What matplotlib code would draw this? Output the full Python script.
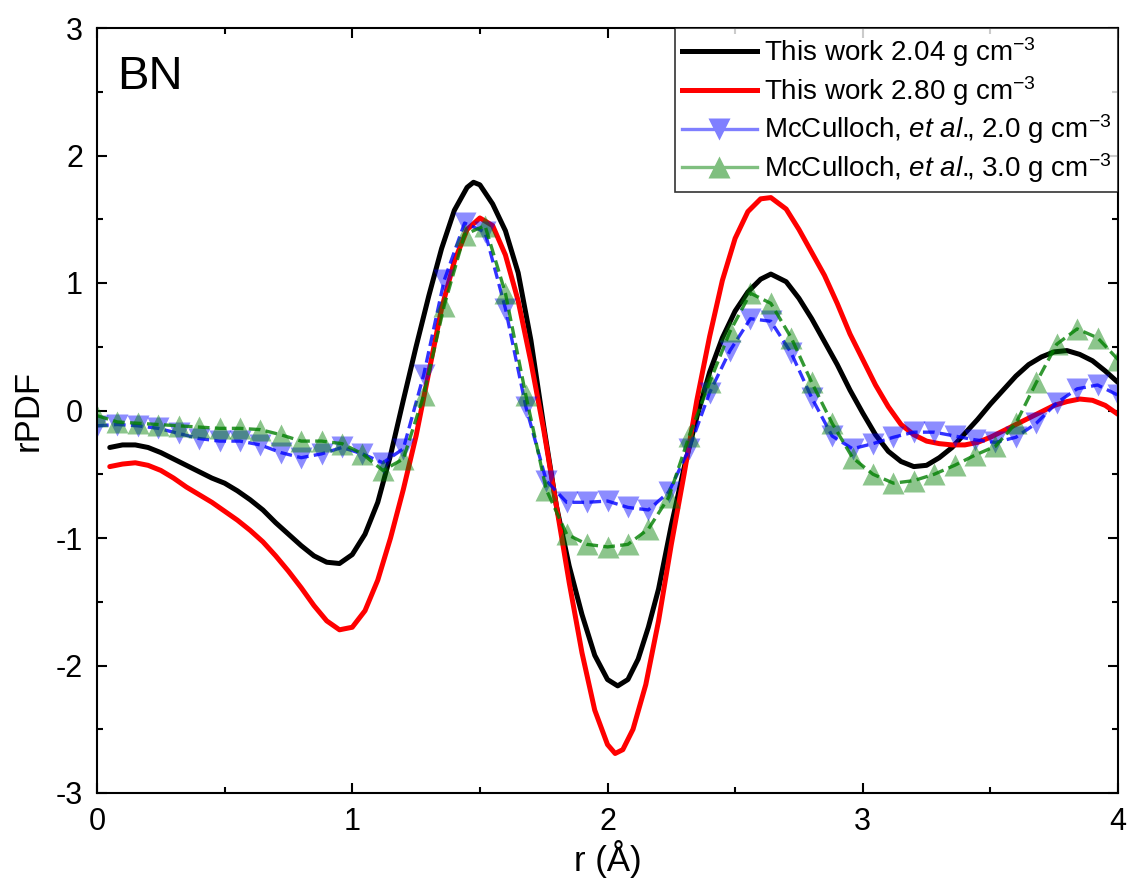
import matplotlib
matplotlib.use("Agg")
import matplotlib.pyplot as plt
from matplotlib.lines import Line2D
from matplotlib.ticker import MultipleLocator

# ── Style ──────────────────────────────────────────────────────────────────────
plt.rcParams.update({
    "font.family": ["Liberation Sans", "DejaVu Sans"],
    "mathtext.fontset": "custom",
    "mathtext.rm": "Liberation Sans",
    "mathtext.it": "Liberation Sans:italic",
    "axes.linewidth": 1.5,
    "axes.unicode_minus": False,
})

# ── Data ───────────────────────────────────────────────────────────────────────
r_black = [0.05, 0.10, 0.15, 0.20, 0.25, 0.30, 0.35, 0.40, 0.45, 0.50,
           0.55, 0.60, 0.65, 0.70, 0.75, 0.80, 0.85, 0.90, 0.95, 1.00,
           1.05, 1.10, 1.15, 1.20, 1.25, 1.30, 1.35, 1.40, 1.45, 1.475,
           1.50, 1.55, 1.60, 1.65, 1.70, 1.75, 1.80, 1.85, 1.90, 1.95,
           2.00, 2.04, 2.08, 2.12, 2.16, 2.20, 2.25, 2.30, 2.35, 2.40,
           2.45, 2.50, 2.55, 2.60, 2.64, 2.70, 2.75, 2.80, 2.85, 2.90,
           2.95, 3.00, 3.05, 3.10, 3.15, 3.20, 3.25, 3.30, 3.35, 3.40,
           3.45, 3.50, 3.55, 3.60, 3.65, 3.70, 3.75, 3.80, 3.85, 3.90,
           3.95, 4.00]
g_black = [-0.29, -0.27, -0.27, -0.29, -0.33, -0.38, -0.43, -0.48, -0.53, -0.57,
           -0.63, -0.70, -0.78, -0.88, -0.97, -1.06, -1.14, -1.19, -1.20, -1.13,
           -0.97, -0.72, -0.35, 0.08, 0.50, 0.90, 1.27, 1.57, 1.75, 1.79,
           1.77, 1.62, 1.41, 1.08, 0.55, -0.12, -0.75, -1.22, -1.60, -1.92,
           -2.11, -2.16, -2.11, -1.95, -1.70, -1.40, -0.90, -0.45, -0.05, 0.30,
           0.57, 0.78, 0.93, 1.03, 1.07, 1.01, 0.88, 0.72, 0.54, 0.36,
           0.16, -0.02, -0.19, -0.32, -0.40, -0.44, -0.43, -0.37, -0.29, -0.18,
           -0.07, 0.05, 0.16, 0.27, 0.36, 0.42, 0.46, 0.47, 0.44, 0.39,
           0.31, 0.22]

r_red = [0.05, 0.10, 0.15, 0.20, 0.25, 0.30, 0.35, 0.40, 0.45, 0.50,
         0.55, 0.60, 0.65, 0.70, 0.75, 0.80, 0.85, 0.90, 0.95, 1.00,
         1.05, 1.10, 1.15, 1.20, 1.25, 1.30, 1.35, 1.40, 1.45, 1.50,
         1.55, 1.60, 1.65, 1.70, 1.75, 1.80, 1.85, 1.90, 1.95, 2.00,
         2.03, 2.06, 2.10, 2.15, 2.20, 2.25, 2.30, 2.35, 2.40, 2.45,
         2.50, 2.55, 2.60, 2.64, 2.70, 2.75, 2.80, 2.85, 2.90, 2.95,
         3.00, 3.05, 3.10, 3.15, 3.20, 3.25, 3.30, 3.35, 3.40, 3.45,
         3.50, 3.55, 3.60, 3.65, 3.70, 3.75, 3.80, 3.85, 3.90, 3.95,
         4.00]
g_red = [-0.44, -0.42, -0.41, -0.43, -0.47, -0.53, -0.60, -0.66, -0.72, -0.79,
         -0.86, -0.94, -1.03, -1.14, -1.26, -1.39, -1.53, -1.65, -1.72, -1.70,
         -1.57, -1.33, -1.00, -0.62, -0.20, 0.30, 0.80, 1.17, 1.42, 1.51,
         1.45, 1.22, 0.86, 0.38, -0.15, -0.75, -1.35, -1.90, -2.35, -2.62,
         -2.69, -2.66, -2.50, -2.15, -1.65, -1.05, -0.50, 0.08, 0.58, 1.02,
         1.35, 1.56, 1.66, 1.67, 1.58, 1.42, 1.24, 1.06, 0.84, 0.60,
         0.40, 0.20, 0.03, -0.11, -0.19, -0.24, -0.26, -0.27, -0.27, -0.25,
         -0.21, -0.16, -0.11, -0.06, -0.01, 0.04, 0.07, 0.09, 0.08, 0.04,
         -0.03]

r_mcc = [0.00, 0.08, 0.16, 0.24, 0.32, 0.40, 0.48, 0.56, 0.64, 0.72,
         0.80, 0.88, 0.96, 1.04, 1.12, 1.20, 1.28, 1.36, 1.44, 1.52,
         1.60, 1.68, 1.76, 1.84, 1.92, 2.00, 2.08, 2.16, 2.24, 2.32,
         2.40, 2.48, 2.56, 2.64, 2.72, 2.80, 2.88, 2.96, 3.04, 3.12,
         3.20, 3.28, 3.36, 3.44, 3.52, 3.60, 3.68, 3.76, 3.84, 3.92,
         4.00]
g_mcc_20 = [-0.12, -0.11, -0.12, -0.14, -0.18, -0.22, -0.24, -0.24, -0.27, -0.33,
            -0.37, -0.34, -0.29, -0.34, -0.41, -0.30, 0.28, 1.02, 1.47, 1.40,
            0.80, 0.03, -0.55, -0.72, -0.72, -0.71, -0.76, -0.78, -0.64, -0.30,
            0.14, 0.47, 0.72, 0.70, 0.45, 0.10, -0.20, -0.30, -0.26, -0.21,
            -0.17, -0.17, -0.20, -0.23, -0.25, -0.21, -0.10, 0.06, 0.17, 0.20,
            0.12]
g_mcc_30 = [-0.04, -0.09, -0.10, -0.11, -0.12, -0.13, -0.14, -0.14, -0.15, -0.19,
            -0.24, -0.24, -0.26, -0.34, -0.47, -0.38, 0.12, 0.82, 1.38, 1.45,
            0.92, 0.12, -0.62, -0.97, -1.05, -1.07, -1.05, -0.93, -0.68, -0.20,
            0.22, 0.62, 0.92, 0.84, 0.57, 0.22, -0.10, -0.37, -0.50, -0.57,
            -0.55, -0.50, -0.43, -0.35, -0.28, -0.10, 0.22, 0.52, 0.64, 0.57,
            0.40]

labels = [
    r"This work 2.04 g cm$^{-3}$",
    r"This work 2.80 g cm$^{-3}$",
    r"McCulloch, $\mathit{et\ al.}\!\!$, 2.0 g cm$^{-3}$",
    r"McCulloch, $\mathit{et\ al.}\!\!$, 3.0 g cm$^{-3}$",
]

# ── Figure ─────────────────────────────────────────────────────────────────────
fig = plt.figure(figsize=(11.28, 8.81), dpi=100)
ax = fig.add_axes([97 / 1128, 1 - 793 / 881, (1118 - 97) / 1128, (793 - 28) / 881])

ax.plot(r_black, g_black, color="black", lw=3.6, solid_capstyle="round")
ax.plot(r_red, g_red, color="#ff0000", lw=3.6, solid_capstyle="round")

# McCulloch series: dashed line plus translucent triangles
ax.plot(r_mcc, g_mcc_20, color="#0000ff", alpha=0.8, lw=2.4, dashes=(3.5, 1.6))
ax.plot(r_mcc, g_mcc_20, ls="none", marker="v", ms=16, mfc="#0000ff",
        mec="none", alpha=0.45)
ax.plot(r_mcc, g_mcc_30, color="#007f00", alpha=0.8, lw=2.4, dashes=(3.5, 1.6))
ax.plot(r_mcc, g_mcc_30, ls="none", marker="^", ms=16, mfc="#008000",
        mec="none", alpha=0.45)

ax.set_xlim(0, 4)
ax.set_ylim(-3, 3)
ax.xaxis.set_major_locator(MultipleLocator(1))
ax.xaxis.set_minor_locator(MultipleLocator(0.5))
ax.yaxis.set_major_locator(MultipleLocator(1))
ax.yaxis.set_minor_locator(MultipleLocator(0.5))
ax.tick_params(which="both", direction="in", top=True, right=True,
               labelsize=22, width=1.5, pad=10)
ax.tick_params(which="major", length=7)
ax.tick_params(which="minor", length=4.5)

ax.set_xlabel("r (Å)", fontsize=25, labelpad=2)
ax.set_ylabel("rPDF", fontsize=25, labelpad=8)

ax.text(0.02, 0.965, "BN", transform=ax.transAxes, fontsize=34,
        ha="left", va="top")

handles = [
    Line2D([], [], color="black", lw=3.6),
    Line2D([], [], color="#ff0000", lw=3.6),
    Line2D([], [], color="#7f7fff", lw=2.4, marker="v", ms=16, mfc="#7f7fff", mec="none"),
    Line2D([], [], color="#7fbf7f", lw=2.4, marker="^", ms=16, mfc="#7fbf7f", mec="none"),
]
leg = ax.legend(handles, labels, loc="upper right", fontsize=20, frameon=True,
                fancybox=False, borderaxespad=0, handlelength=2.7,
                handletextpad=0.25, labelspacing=0.18, borderpad=0.25)
leg.get_frame().set_edgecolor("black")
leg.get_frame().set_linewidth(1.2)

fig.savefig("out.png", dpi=100)
